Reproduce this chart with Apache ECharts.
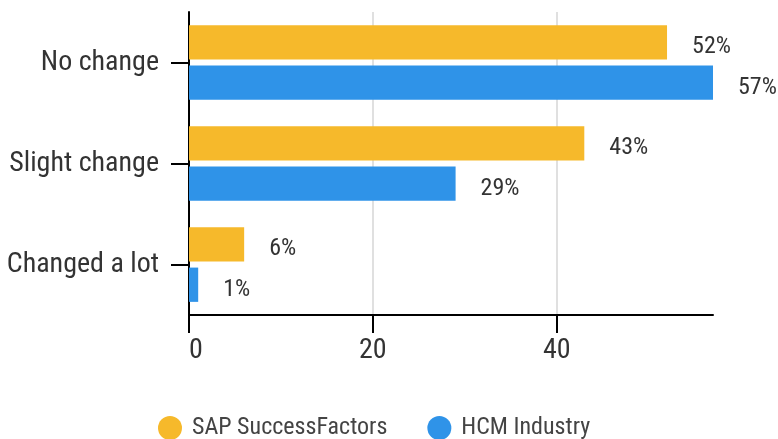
<!DOCTYPE html>
<html>
<head>
<meta charset="utf-8">
<script src="https://cdn.jsdelivr.net/npm/echarts@6/dist/echarts.min.js"></script>
<style>
    html, body { margin: 0; padding: 0; background: #fff; }
    #chart { width: 778px; height: 439px; }
</style>
</head>
<body>
<div id="chart"></div>
<script>
var categories = ['No change', 'Slight change', 'Changed a lot'];
var sapValues = [52, 43, 6];
var hcmValues = [57, 29, 1];
var xTicks = [0, 20, 40];

var font = "'Roboto Condensed', 'Liberation Sans Narrow', 'DejaVu Sans Condensed', Roboto, sans-serif";
var chart = echarts.init(document.getElementById('chart'));

var option = {
    animation: false,
    textStyle: { fontFamily: font },
    grid: { left: 189, right: 65, top: 12, bottom: 124 },
    legend: {
        bottom: -1,
        left: 158,
        padding: 0,
        itemWidth: 24,
        itemHeight: 24,
        itemGap: 40,
        icon: 'circle',
        textStyle: { fontSize: 24, color: '#444', fontFamily: font, padding: [0, 0, 0, 5] },
        data: ['SAP SuccessFactors', 'HCM Industry']
    },
    xAxis: {
        type: 'value',
        min: 0,
        max: 57,
        interval: 20,
        axisLine: { show: true, lineStyle: { color: '#000', width: 2 } },
        axisTick: { show: true, length: 18, lineStyle: { color: '#000', width: 2 },
            interval: function (i, v) { return xTicks.indexOf(v) >= 0; } },
        axisLabel: {
            fontSize: 28, color: '#333', margin: 22,
            showMaxLabel: false,
            alignMinLabel: 'left',
            formatter: function (v) { return xTicks.indexOf(v) >= 0 ? v : ''; }
        },
        splitLine: { show: true, showMaxLine: false, lineStyle: { color: '#e0e0e0', width: 2 } }
    },
    yAxis: {
        type: 'category',
        inverse: true,
        data: categories,
        axisLine: { show: true, lineStyle: { color: '#000', width: 2 } },
        axisTick: { show: true, alignWithLabel: true, length: 18, lineStyle: { color: '#000', width: 2 } },
        axisLabel: { fontSize: 28, color: '#333', margin: 30, padding: [6, 0, 0, 0] }
    },
    series: [
        {
            name: 'SAP SuccessFactors',
            type: 'bar',
            data: sapValues,
            barGap: '18%',
            barCategoryGap: '26%',
            itemStyle: { color: '#F6B92B' },
            label: { show: true, position: 'right', distance: 25, offset: [0, 5],
                formatter: '{c}%', fontSize: 24, color: '#333', fontFamily: font }
        },
        {
            name: 'HCM Industry',
            type: 'bar',
            data: hcmValues,
            itemStyle: { color: '#2F93E8' },
            label: { show: true, position: 'right', distance: 25, offset: [0, 5],
                formatter: '{c}%', fontSize: 24, color: '#333', fontFamily: font }
        }
    ]
};
option && chart.setOption(option);
</script>
</body>
</html>
